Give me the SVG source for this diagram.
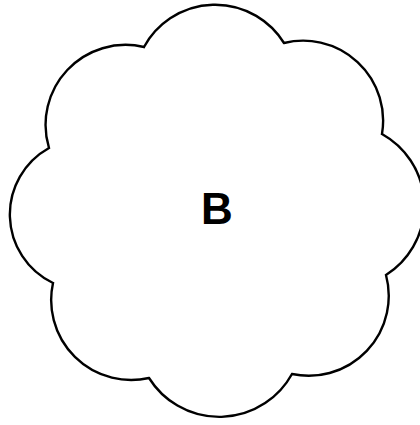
<svg xmlns="http://www.w3.org/2000/svg" width="420" height="425" viewBox="0 0 420 425">
  <style>
    .outline { fill: #ffffff; stroke: #000000; stroke-width: 2.4; stroke-linejoin: miter; }
    .label { font-family: "Liberation Sans", Arial, Helvetica, sans-serif; font-weight: bold; font-size: 44px; fill: #000000; text-anchor: middle; }
  </style>
  <rect x="0" y="0" width="420" height="425" fill="#ffffff"/>
  <g id="node-B">
    <path class="outline" d="M144,47 A81,81 0 0 1 284,43 A80,80 0 0 1 382,134 A82,82 0 0 1 386,275 A80,80 0 0 1 292,374 A83,83 0 0 1 149,378 A80,80 0 0 1 53,283 A76,76 0 0 1 49,148 A80,80 0 0 1 144,47 Z"/>
    <text class="label" x="217" y="224">B</text>
  </g>
</svg>
